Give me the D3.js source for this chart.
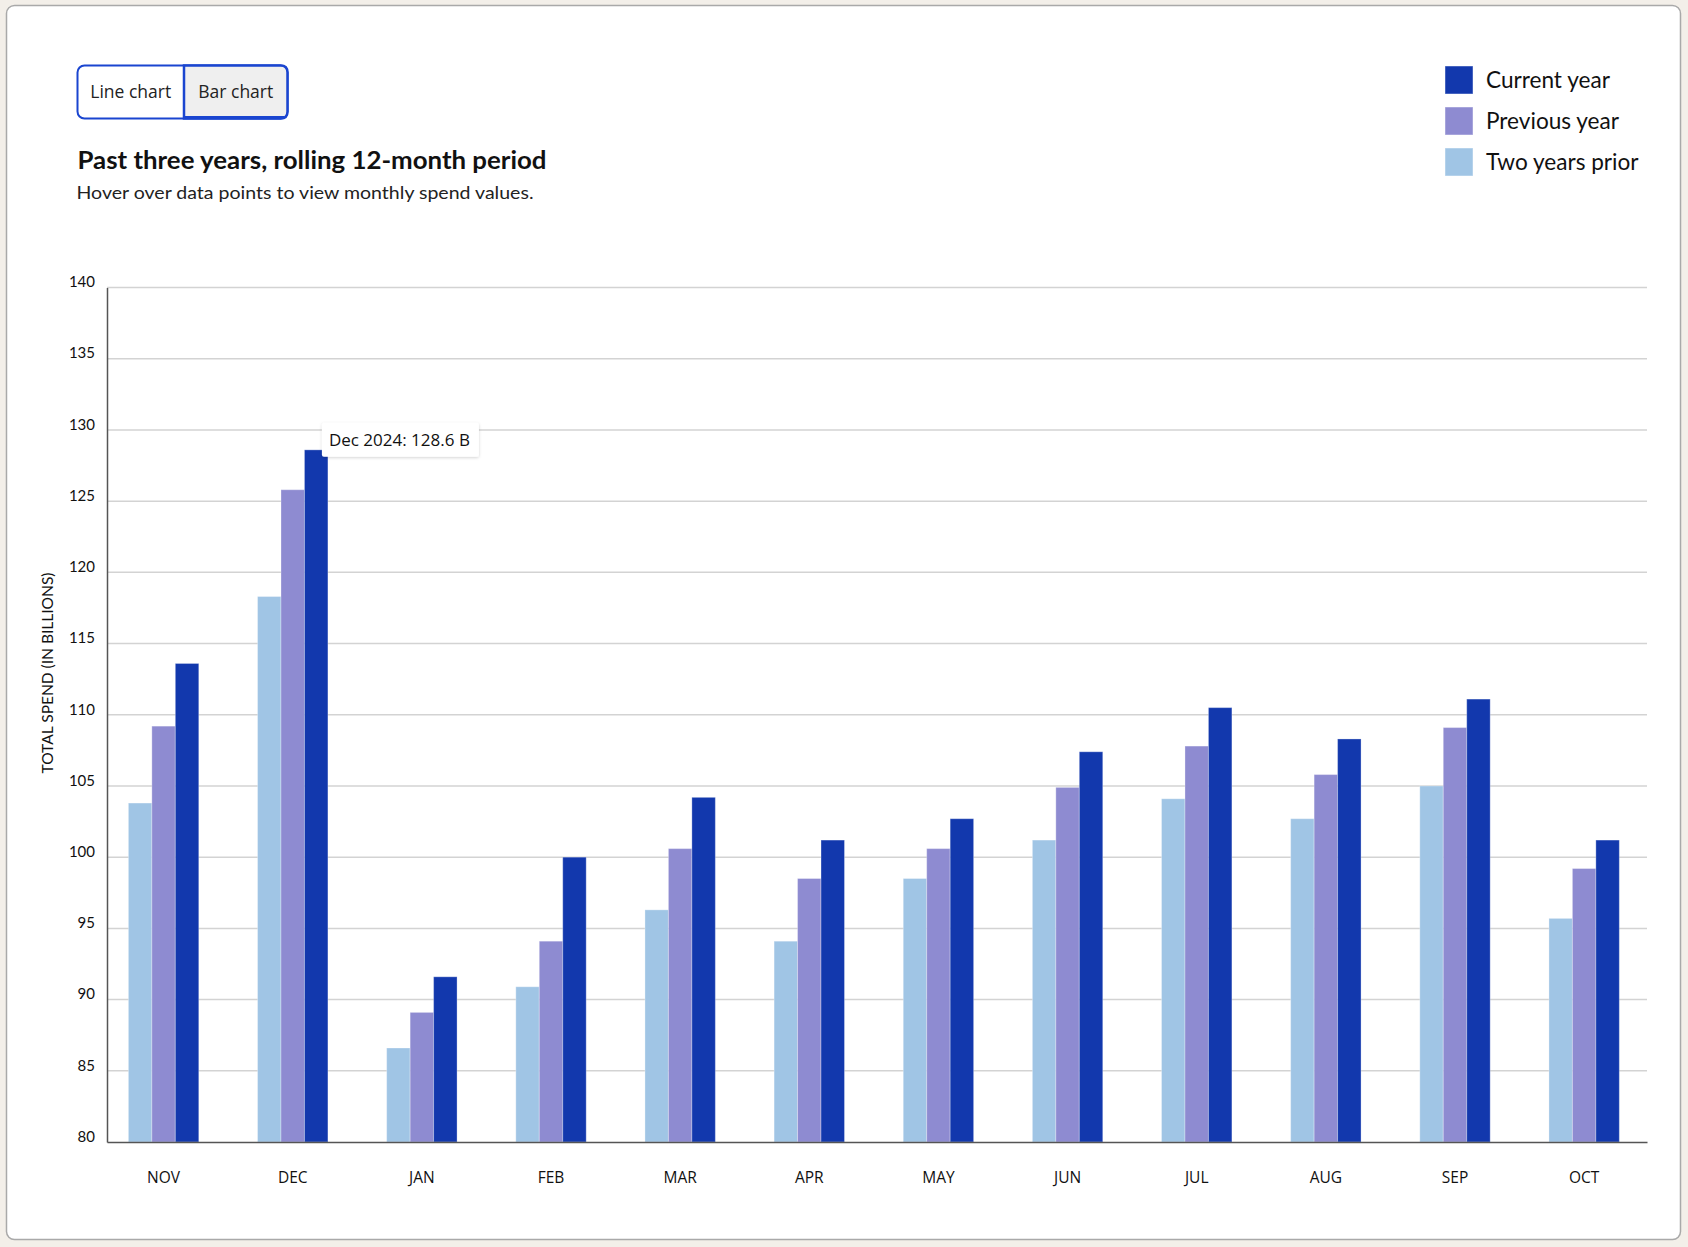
<!DOCTYPE html>
<html><head><meta charset="utf-8">
<script src="https://cdn.jsdelivr.net/npm/d3@7"></script>
<style>
html,body{margin:0;padding:0;background:#f3efe9;}
svg{display:block;}
</style></head><body>
<svg id="chart" width="1688" height="1247"></svg>
<script>
// ---- data ----
const months = ["NOV","DEC","JAN","FEB","MAR","APR","MAY","JUN","JUL","AUG","SEP","OCT"];
const seriesNames = ["Two years prior","Previous year","Current year"];
const twoYearsPrior = [103.8,118.3,86.6,90.9,96.3,94.1,98.5,101.2,104.1,102.7,105.0,95.7];
const previousYear  = [109.2,125.8,89.1,94.1,100.6,98.5,100.6,104.9,107.8,105.8,109.1,99.2];
const currentYear   = [113.6,128.6,91.6,100.0,104.2,101.2,102.7,107.4,110.5,108.3,111.1,101.2];
const yTicks = [80,85,90,95,100,105,110,115,120,125,130,135,140];
const legendOrder = ["Current year","Previous year","Two years prior"];
const tooltipMonth = "DEC";
const tooltipLabel = "Dec 2024";

const colors = {"Two years prior":"#a0c5e5","Previous year":"#8e8bd1","Current year":"#1238ad"};
const valuesBySeries = {"Two years prior":twoYearsPrior,"Previous year":previousYear,"Current year":currentYear};

const svg = d3.select("#chart");

// card
svg.append("rect").attr("x",6.5).attr("y",5.5).attr("width",1674).attr("height",1234)
  .attr("rx",8).attr("fill","#fff").attr("stroke","#a9a9a9").attr("stroke-width",1.5);

// toggle
const tg = svg.append("g");
const tx0=77.5, ty0=65.5, tw=210, th=53, tmid=184;
tg.append("rect").attr("x",tx0).attr("y",ty0).attr("width",tw).attr("height",th).attr("rx",7)
  .attr("fill","#fff").attr("stroke","#1a45d0").attr("stroke-width",2);
const r=7, x1r=tx0+tw, y1b=ty0+th;
tg.append("path")
  .attr("d",`M${tmid},${ty0} L${x1r-r},${ty0} Q${x1r},${ty0} ${x1r},${ty0+r} L${x1r},${y1b-r} Q${x1r},${y1b} ${x1r-r},${y1b} L${tmid},${y1b} Z`)
  .attr("fill","#efefef").attr("stroke","#1a45d0").attr("stroke-width",2.5);
tg.append("line").attr("x1",tmid).attr("x2",x1r-3).attr("y1",y1b-1).attr("y2",y1b-1)
  .attr("stroke","#1a45d0").attr("stroke-width",3);
tg.append("text").attr("x",(tx0+tmid)/2).attr("y",ty0+th/2).attr("dy","0.35em")
  .attr("text-anchor","middle").attr("font-family","'Open Sans',sans-serif").attr("font-size",17.5)
  .attr("fill","#222").text("Line chart");
tg.append("text").attr("x",(tmid+x1r)/2).attr("y",ty0+th/2).attr("dy","0.35em")
  .attr("text-anchor","middle").attr("font-family","'Open Sans',sans-serif").attr("font-size",17.5)
  .attr("fill","#222").text("Bar chart");

// title & subtitle
svg.append("text").attr("x",77.5).attr("y",169).attr("font-family","Lato,sans-serif")
  .attr("font-weight",700).attr("font-size",25).attr("fill","#111")
  .attr("textLength",469).attr("lengthAdjust","spacingAndGlyphs")
  .text("Past three years, rolling 12-month period");
svg.append("text").attr("x",76.5).attr("y",199).attr("font-family","Lato,sans-serif")
  .attr("font-size",18).attr("fill","#222")
  .attr("textLength",457).attr("lengthAdjust","spacingAndGlyphs")
  .text("Hover over data points to view monthly spend values.");

// legend
const lg = svg.append("g").selectAll("g").data(legendOrder).join("g")
  .attr("transform",(d,i)=>`translate(1445,${66+i*41})`);
lg.append("rect").attr("width",28).attr("height",28).attr("fill",d=>colors[d])
  .attr("stroke","rgba(255,255,255,0.45)").attr("stroke-width",1);
lg.append("text").attr("x",41).attr("y",14).attr("dy","0.36em")
  .attr("font-family","Lato,sans-serif").attr("font-size",22.6).attr("fill","#111").text(d=>d);

// scales
const plotLeft=107, plotRight=1647, plotTop=287.5, plotBottom=1142;
const y = d3.scaleLinear().domain([80,140]).range([plotBottom,plotTop]);
const x0 = d3.scaleBand().domain(months).range([plotLeft,plotRight])
  .paddingInner(0.455).paddingOuter(0.19).align(0.436);
const x1 = d3.scaleBand().domain(seriesNames).range([0,x0.bandwidth()]).padding(0);

// gridlines
svg.append("g").selectAll("line").data(yTicks.filter(t=>t>80)).join("line")
  .attr("x1",plotLeft).attr("x2",plotRight).attr("y1",d=>y(d)).attr("y2",d=>y(d))
  .attr("stroke","#d3d3d3").attr("stroke-width",1.5);

// y axis
const yAxis = svg.append("g").attr("transform",`translate(${plotLeft},0)`)
  .call(d3.axisLeft(y).tickValues(yTicks).tickSize(0).tickPadding(12).tickFormat(d3.format("d")));
yAxis.select(".domain").attr("stroke","#555").attr("stroke-width",1.5);
yAxis.selectAll("text").attr("font-family","Lato,sans-serif").attr("font-size",15)
  .attr("fill","#111").attr("dy","-0.05em");

svg.append("text").attr("transform",`translate(48,673) rotate(-90)`)
  .attr("text-anchor","middle").attr("dy","0.35em")
  .attr("font-family","Lato,sans-serif").attr("font-size",15).attr("fill","#111")
  .attr("textLength",201).attr("lengthAdjust","spacingAndGlyphs")
  .text("TOTAL SPEND (IN BILLIONS)");

// bars
const groups = svg.append("g").selectAll("g").data(months).join("g")
  .attr("transform",d=>`translate(${x0(d)},0)`);
groups.selectAll("rect").data((m,i)=>seriesNames.map(s=>({s,v:valuesBySeries[s][i]}))).join("rect")
  .attr("x",d=>x1(d.s)).attr("width",x1.bandwidth())
  .attr("y",d=>y(d.v)).attr("height",d=>y(80)-y(d.v))
  .attr("fill",d=>colors[d.s]).attr("stroke","rgba(255,255,255,0.3)").attr("stroke-width",1);

// x axis
const xAxis = svg.append("g").attr("transform",`translate(0,${plotBottom})`)
  .call(d3.axisBottom(x0).tickSize(0).tickPadding(30));
xAxis.select(".domain").attr("stroke","#555").attr("stroke-width",1.5);
xAxis.selectAll("text").attr("font-family","'Open Sans',sans-serif").attr("font-size",15.5).attr("fill","#111");

// tooltip
const ti = months.indexOf(tooltipMonth);
const tv = currentYear[ti];
const tX = x0(tooltipMonth)+x1("Current year")+x1.bandwidth()-6;
const tY = y(tv)-27;
const tip = svg.append("g").attr("transform",`translate(${tX},${tY})`);
const defs = svg.append("defs");
const f = defs.append("filter").attr("id","sh").attr("x","-20%").attr("y","-40%").attr("width","140%").attr("height","180%");
f.append("feDropShadow").attr("dx",0).attr("dy",1).attr("stdDeviation",1.5).attr("flood-color","#000").attr("flood-opacity",0.18);
tip.append("rect").attr("width",157).attr("height",34).attr("rx",2).attr("fill","#fff").attr("filter","url(#sh)");
tip.append("text").attr("x",7).attr("y",17).attr("dy","0.35em")
  .attr("font-family","'Open Sans',sans-serif").attr("font-size",17).attr("fill","#111")
  .text(`${tooltipLabel}: ${tv.toFixed(1)} B`);
</script>
</body></html>
